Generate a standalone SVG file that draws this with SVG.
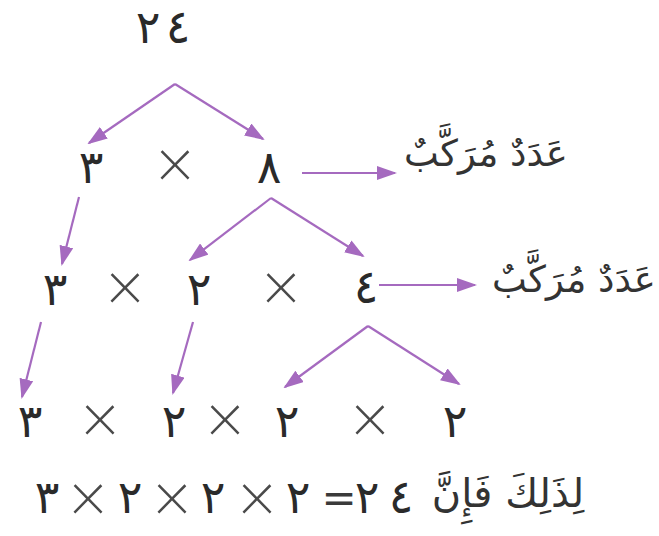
<svg xmlns="http://www.w3.org/2000/svg" width="659" height="536" viewBox="0 0 659 536">
  <style>
    .num { font-family: "DejaVu Sans", "Noto Sans", sans-serif; font-size: 46px; fill: #2a2a2a; text-anchor: middle; }
    .op { font-family: Lato, "Liberation Sans", sans-serif; font-weight: 300; font-size: 68px; fill: #4a4a4a; text-anchor: middle; }
    .eq { font-family: "DejaVu Sans", sans-serif; font-size: 42px; fill: #3a3a3a; text-anchor: middle; }
    .ar { font-family: "DejaVu Sans", "Noto Sans", sans-serif; font-size: 37px; fill: #333333; text-anchor: middle; }
    .big { font-size: 40px; }
    .edge { stroke: #a56abf; stroke-width: 2.2; fill: none; marker-end: url(#head); }
  </style>
  <defs>
    <marker id="head" markerUnits="userSpaceOnUse" markerWidth="20" markerHeight="14" refX="18" refY="7" orient="auto">
      <path d="M0,0 L20,7 L0,14 Z" fill="#a56abf"/>
    </marker>
  </defs>

  <rect width="659" height="536" fill="#ffffff"/>

  <!-- root -->
  <g id="n24">
    <text class="num" x="148 178" y="43">٢٤</text>
  </g>

  <!-- first split: 3 x 8 -->
  <g id="row1">
    <text class="num" x="91" y="183">٣</text>
    <text class="op" x="175" y="188">×</text>
    <text class="num" x="269" y="183">٨</text>
  </g>
  <g id="label1">
    <text class="ar" x="486" y="166">عَدَدٌ مُرَكَّبٌ</text>
  </g>

  <!-- second split: 3 x 2 x 4 -->
  <g id="row2">
    <text class="num" x="55" y="305">٣</text>
    <text class="op" x="125" y="311">×</text>
    <text class="num" x="199" y="305">٢</text>
    <text class="op" x="281" y="311">×</text>
    <text class="num" x="366" y="303">٤</text>
  </g>
  <g id="label2">
    <text class="ar" x="574" y="292">عَدَدٌ مُرَكَّبٌ</text>
  </g>

  <!-- prime factors -->
  <g id="row3">
    <text class="num" x="30" y="437">٣</text>
    <text class="op" x="100" y="443">×</text>
    <text class="num" x="174" y="437">٢</text>
    <text class="op" x="225" y="443">×</text>
    <text class="num" x="287" y="437">٢</text>
    <text class="op" x="370" y="443">×</text>
    <text class="num" x="455" y="437">٢</text>
  </g>

  <!-- result line -->
  <g id="result">
    <text class="num" x="47" y="513">٣</text>
    <text class="op" x="88" y="522">×</text>
    <text class="num" x="130" y="513">٢</text>
    <text class="op" x="172" y="522">×</text>
    <text class="num" x="213" y="513">٢</text>
    <text class="op" x="257" y="522">×</text>
    <text class="num" x="298" y="513">٢</text>
    <text class="eq" x="339" y="512">=</text>
    <text class="num" x="367 401" y="513">٢٤</text>
    <text class="ar big" x="508" y="507">لِذَلِكَ فَإِنَّ</text>
  </g>

  <!-- connectors -->
  <g id="connectors">
    <path class="edge" d="M175,84 L89,143"/>
    <path class="edge" d="M175,84 L263,139"/>
    <path class="edge" d="M302,173 L395,173"/>
    <path class="edge" d="M79,197 L62,264"/>
    <path class="edge" d="M271,198 L190,260"/>
    <path class="edge" d="M271,198 L363,256"/>
    <path class="edge" d="M379,285 L475,285"/>
    <path class="edge" d="M41,322 L22,397"/>
    <path class="edge" d="M193,322 L173,393"/>
    <path class="edge" d="M368,326 L285,387"/>
    <path class="edge" d="M368,326 L459,384"/>
  </g>
</svg>
